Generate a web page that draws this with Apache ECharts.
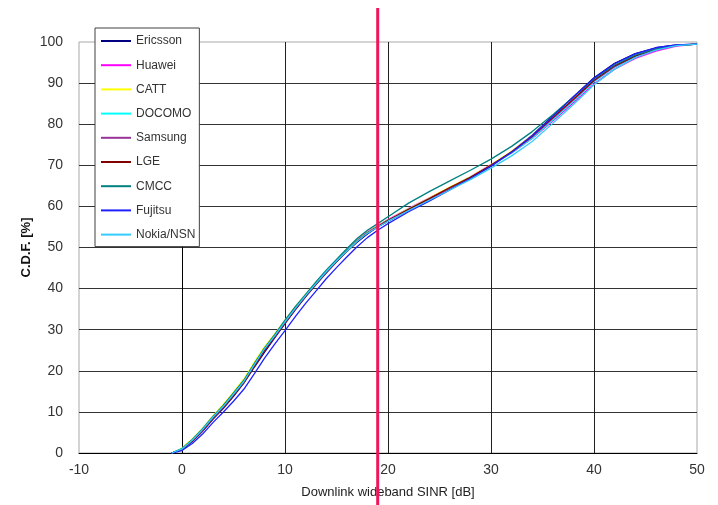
<!DOCTYPE html>
<html>
<head>
<meta charset="utf-8">
<script src="https://cdn.jsdelivr.net/npm/echarts@6/dist/echarts.min.js"></script>
<style>
html,body{margin:0;padding:0;background:#fff;}
#main{width:718px;height:505px;}
</style>
</head>
<body>
<div id="main"></div>
<script>
// ---- DATA ----
var sinrDb = [-1,0,1,2,3,4,5,6,7,8,9,10,11,12,13,14,15,16,17,18,19,20,22,24,26,28,30,32,34,36,38,40,42,44,46,48,50];
var seriesNames = ['Ericsson','Huawei','CATT','DOCOMO','Samsung','LGE','CMCC','Fujitsu','Nokia/NSN'];
var ericsson = [0,0.8,2.8,5.3,8.2,10.8,13.8,17,20.8,24.5,28,31.5,34.8,38,41,43.8,46.5,49,51.3,53.3,55,56.4,59,61.5,64.2,66.8,69.8,73.3,77.3,82,86.7,91.3,94.8,97.2,98.6,99.3,99.5];
var huawei   = [0,1,3.2,5.8,8.8,11.5,14.5,17.5,21.5,25.2,28.5,32,35.3,38.3,41.3,44.2,46.8,49.3,51.8,53.8,55.3,56.8,59.5,62,64.6,67.2,70.2,73,76.5,80.8,85.2,89.8,93.4,96,97.8,99,99.5];
var catt     = [0,1.2,3.4,6,9,11.8,14.8,18,22,25.8,29,32.3,35.6,38.6,41.5,44.3,46.9,49.3,51.7,53.7,55.2,56.7,59.4,62,64.7,67.2,70.1,73.4,77.2,81.7,86.2,90.8,94.3,96.7,98.3,99.2,99.5];
var docomo   = [0,1,3,5.6,8.6,11.2,14.2,17.3,21.3,25.3,28.6,32,35.3,38.4,41.3,44.2,46.8,49.2,51.6,53.6,55.1,56.6,59.3,61.8,64.4,67,69.9,73,76.6,81,85.6,90.3,93.9,96.5,98.2,99.1,99.5];
var samsung  = [0,0.9,2.9,5.4,8.4,11,14,17.1,21,24.9,28.2,31.6,35,38.1,41,43.9,46.5,49,51.5,53.5,55,56.5,59.2,61.7,64.4,67,70,73.1,76.9,81.4,85.9,90.5,94,96.5,98.1,99.1,99.5];
var lge      = [0,0.9,2.9,5.5,8.5,11.1,14,17.2,21.1,25,28.3,31.7,35.1,38.2,41.1,44,46.6,49.1,51.6,53.6,55.1,56.6,59.3,61.9,64.6,67.1,70,73.3,77.1,81.6,86.1,90.7,94.2,96.6,98.2,99.2,99.5];
var cmcc     = [0,1.1,3.3,5.9,8.9,11.6,14.6,17.7,21.7,25.5,28.8,32.3,35.6,38.6,41.6,44.5,47.1,49.7,52.2,54.2,55.8,57.5,60.8,63.6,66.2,68.8,71.5,74.6,78.2,82.3,86.6,91,94.4,96.8,98.3,99.2,99.5];
var fujitsu  = [0,0.6,2.3,4.6,7.4,9.9,12.6,15.5,19.2,23,26.5,29.8,33.2,36.4,39.4,42.4,45.1,47.7,50.2,52.4,54.2,55.8,58.7,61.3,64,66.8,69.8,73.2,77.2,81.9,86.6,91.2,94.7,97.1,98.6,99.3,99.5];
var nokia    = [0,1,3.1,5.7,8.7,11.3,14.3,17.4,21.4,25.3,28.5,31.9,35.2,38.3,41.2,44.1,46.7,49.1,51.5,53.5,55,56.4,59,61.5,64,66.5,69.3,72.3,75.8,80.2,84.8,89.6,93.4,96.2,98,99.1,99.5];
var seriesValues = [ericsson,huawei,catt,docomo,samsung,lge,cmcc,fujitsu,nokia];
var xTicks = [-10,0,10,20,30,40,50];
var yTicks = [0,10,20,30,40,50,60,70,80,90,100];
var redLineDb = 19;

// ---- STYLE ----
var colors = ['#000080','#ff00ff','#ffff00','#00ffff','#993399','#800000','#008080','#2020ff','#33ccff'];

var chart = echarts.init(document.getElementById('main'), null, {renderer:'canvas'});
var series = seriesNames.map(function(name, i){
  return {
    name: name,
    type: 'line',
    showSymbol: false,
    symbol: 'none',
    color: colors[i],
    lineStyle: {width: 1.3, color: colors[i]},
    data: sinrDb.map(function(x, j){ return [x, seriesValues[i][j]]; }),
    z: 3
  };
});

chart.setOption({
  animation: false,
  backgroundColor: '#fff',
  grid: {left: 79, right: 21, top: 42, bottom: 52, show: true, borderColor: '#a8a8a8', borderWidth: 1},
  legend: {
    orient: 'vertical',
    left: 95, top: 28,
    padding: [6, 4, 5, 6],
    itemGap: 10.2,
    itemWidth: 30,
    itemHeight: 2,
    icon: 'rect',
    backgroundColor: '#fff',
    borderColor: '#404040',
    borderWidth: 1,
    textStyle: {fontFamily: 'Arial, Liberation Sans', fontSize: 12, lineHeight: 14, color: '#333'},
    data: seriesNames,
    z: 10
  },
  xAxis: {
    type: 'value', min: xTicks[0], max: xTicks[xTicks.length-1], interval: 10,
    name: 'Downlink wideband SINR [dB]', nameLocation: 'middle', nameGap: 33,
    nameMoveOverlap: false,
    nameTextStyle: {fontFamily: 'Arial, Liberation Sans', fontSize: 13, color: '#222'},
    axisLine: {show: true, lineStyle: {color: '#000', width: 1}},
    axisTick: {show: false},
    axisLabel: {fontFamily: 'Arial, Liberation Sans', fontSize: 14, color: '#333', margin: 10},
    splitLine: {show: true, showMinLine: false, showMaxLine: false, lineStyle: {color: '#202020', width: 1}}
  },
  yAxis: {
    type: 'value', min: yTicks[0], max: yTicks[yTicks.length-1], interval: 10,
    name: 'C.D.F. [%]', nameLocation: 'middle', nameGap: 46,
    nameMoveOverlap: false,
    nameTextStyle: {fontFamily: 'Arial, Liberation Sans', fontSize: 13, fontWeight: 'bold', color: '#111'},
    axisLine: {show: true, lineStyle: {color: '#000', width: 1}},
    axisTick: {show: false},
    axisLabel: {fontFamily: 'Arial, Liberation Sans', fontSize: 14, color: '#333', margin: 16},
    splitLine: {show: true, showMinLine: false, showMaxLine: false, lineStyle: {color: '#333', width: 1}}
  },
  series: series
});

var px = chart.convertToPixel({xAxisIndex: 0}, redLineDb);
chart.setOption({
  graphic: [{
    type: 'line', z: 20,
    shape: {x1: px, y1: 8, x2: px, y2: 505},
    style: {stroke: '#f0145a', lineWidth: 3}
  }]
});
</script>
</body>
</html>
